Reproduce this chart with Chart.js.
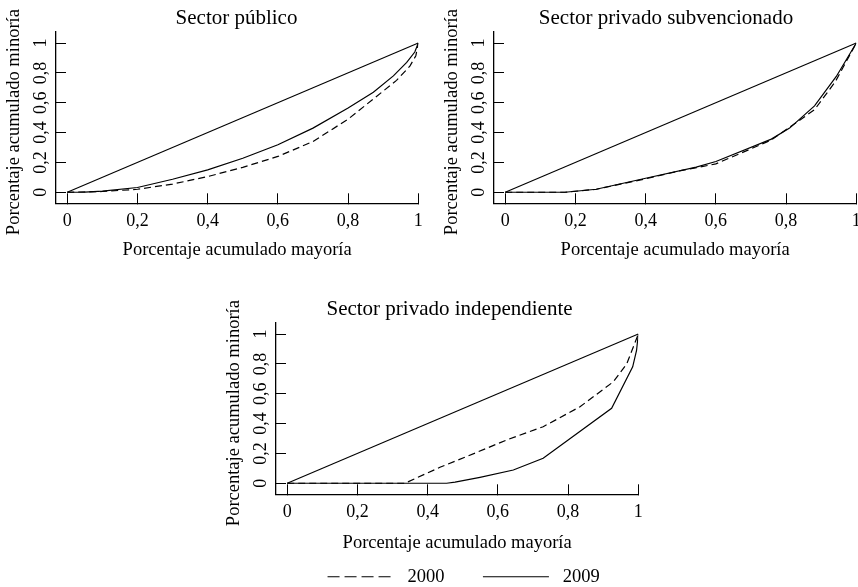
<!DOCTYPE html>
<html>
<head>
<meta charset="utf-8">
<script src="https://cdn.jsdelivr.net/npm/chart.js@4"></script>
<style>
  html, body { margin: 0; padding: 0; background: #fff; }
  body { width: 858px; height: 587px; overflow: hidden; position: relative; }
  canvas { position: absolute; }
</style>
</head>
<body>
<canvas id="c1" width="473" height="270" style="left:0px;top:0px;"></canvas>
<canvas id="c2" width="456" height="270" style="left:438px;top:0px;"></canvas>
<canvas id="c3" width="459" height="305" style="left:220px;top:291px;"></canvas>
<script>
// ---- data ----
const axisTicks = [0, 0.2, 0.4, 0.6, 0.8, 1];
const axisTickLabels = ['0', '0,2', '0,4', '0,6', '0,8', '1'];
const xTitleText = 'Porcentaje acumulado mayoría';
const yTitleText = 'Porcentaje acumulado minoría';
const seriesLabels = ['2000', '2009'];

const equalityX = [0, 1];
const equalityY = [0, 1];

// Sector público
const publico2000X = [0, 0.1, 0.2, 0.3, 0.4, 0.5, 0.6, 0.7, 0.8, 0.88, 0.938, 0.976, 0.993, 1];
const publico2000Y = [0, 0.005, 0.02, 0.055, 0.105, 0.167, 0.24, 0.34, 0.49, 0.64, 0.75, 0.845, 0.915, 1];
const publico2009X = [0, 0.05, 0.1, 0.2, 0.3, 0.4, 0.5, 0.6, 0.7, 0.8, 0.872, 0.929, 0.967, 0.99, 1];
const publico2009Y = [0, 0.001, 0.007, 0.032, 0.087, 0.15, 0.228, 0.318, 0.43, 0.564, 0.67, 0.78, 0.87, 0.94, 1];

// Sector privado subvencionado
const subv2000X = [0, 0.17, 0.26, 0.4, 0.5, 0.6, 0.758, 0.881, 0.94, 1];
const subv2000Y = [0, 0, 0.02, 0.09, 0.145, 0.19, 0.35, 0.553, 0.74, 1];
const subv2009X = [0, 0.17, 0.259, 0.4, 0.544, 0.6, 0.758, 0.81, 0.881, 0.943, 1];
const subv2009Y = [0, 0, 0.02, 0.094, 0.168, 0.206, 0.356, 0.43, 0.579, 0.776, 1];

// Sector privado independiente
const indep2000X = [0, 0.335, 0.435, 0.511, 0.625, 0.729, 0.834, 0.929, 0.967, 1];
const indep2000Y = [0, 0, 0.107, 0.179, 0.29, 0.379, 0.513, 0.68, 0.80, 1];
const indep2009X = [0, 0.454, 0.478, 0.549, 0.644, 0.729, 0.924, 0.984, 0.995, 1];
const indep2009Y = [0, 0, 0.007, 0.04, 0.089, 0.167, 0.502, 0.78, 0.89, 1];

// ---- helpers ----
const FONT = 'Liberation Serif, Times New Roman, serif';
function pts(xs, ys) { return xs.map((x, i) => ({x: x, y: ys[i]})); }

function makeChart(id, cfg) {
  const datasets = [
    {label: '', data: pts(equalityX, equalityY), borderColor: '#000', borderWidth: 1.1, pointRadius: 0, fill: false},
    {label: seriesLabels[0], data: pts(cfg.s2000X, cfg.s2000Y), borderColor: '#000', borderWidth: 1.2, borderDash: [7, 4], pointRadius: 0, fill: false},
    {label: seriesLabels[1], data: pts(cfg.s2009X, cfg.s2009Y), borderColor: '#000', borderWidth: 1.2, pointRadius: 0, fill: false}
  ];
  const tickCb = (v, i) => axisTickLabels[i];
  const setTicks = s => { s.ticks = axisTicks.map(v => ({value: v})); };
  return new Chart(document.getElementById(id), {
    type: 'line',
    data: {datasets},
    options: {
      responsive: false,
      animation: false,
      devicePixelRatio: 1,
      layout: {padding: 0},
      elements: {line: {tension: 0}, point: {radius: 0}},
      plugins: {
        tooltip: {enabled: false},
        title: {
          display: true, text: cfg.title, color: '#000',
          font: {family: FONT, size: 21, weight: 'normal', lineHeight: 1.2},
          padding: {top: 5.7, bottom: 0.8}
        },
        legend: cfg.legend ? {
          display: true, position: 'bottom', align: 'end', fullSize: false,
          labels: {
            usePointStyle: true, pointStyle: 'line', pointStyleWidth: 66, boxHeight: 18,
            padding: 38.5, color: '#000',
            font: {family: FONT, size: 18.5},
            filter: item => item.text.trim() !== '',
            generateLabels: chart => Chart.defaults.plugins.legend.labels.generateLabels(chart).map(it => {
              it.text = ' ' + it.text;
              it.pointStyle = 'line';
              it.lineWidth = 1.2;
              it.strokeStyle = '#000';
              it.lineDash = (it.datasetIndex === 1) ? [12, 5] : [];
              return it;
            })
          }
        } : {display: false}
      },
      scales: {
        x: {
          type: 'linear', position: 'bottom', min: -0.032, max: 1,
          afterBuildTicks: setTicks,
          afterFit: s => { s.height = cfg.xh; },
          grid: {display: true, drawOnChartArea: false, drawTicks: true, tickLength: -10, color: '#000', lineWidth: 1},
          border: {display: true, color: '#000', width: 1.3},
          ticks: {color: '#000', font: {family: FONT, size: 18}, padding: 17.6, autoSkip: false, maxRotation: 0, minRotation: 0, callback: tickCb},
          title: {display: true, text: xTitleText, color: '#000', font: {family: FONT, size: 18.5, lineHeight: 1.2}, padding: {top: 0, bottom: cfg.xtp}}
        },
        y: {
          type: 'linear', position: 'left', min: -0.074, max: 1.076,
          afterBuildTicks: setTicks,
          afterFit: s => { s.width = 56; },
          grid: {display: true, drawOnChartArea: false, drawTicks: true, tickLength: -10, color: '#000', lineWidth: 1},
          border: {display: true, color: '#000', width: 1.3},
          ticks: {color: '#000', font: {family: FONT, size: 18}, padding: 13.75, autoSkip: false, minRotation: 90, maxRotation: 90, crossAlign: 'center', callback: tickCb},
          title: {display: true, text: yTitleText + '  ', color: '#000', font: {family: FONT, size: 18.5, lineHeight: 1.2}, padding: {top: 3.1, bottom: 0}}
        },
        r: {
          type: 'linear', position: 'right', display: true,
          afterBuildTicks: s => { s.ticks = []; },
          afterFit: s => { s.width = cfg.rw; },
          grid: {display: false}, border: {display: false},
          ticks: {display: false}, title: {display: false}
        }
      }
    }
  });
}

makeChart('c1', {title: 'Sector público', s2000X: publico2000X, s2000Y: publico2000Y, s2009X: publico2009X, s2009Y: publico2009Y, xh: 66.7, xtp: 8.6, rw: 54.7, legend: false});
makeChart('c2', {title: 'Sector privado subvencionado', s2000X: subv2000X, s2000Y: subv2000Y, s2009X: subv2009X, s2009Y: subv2009Y, xh: 66.7, xtp: 8.6, rw: 37.7, legend: false});
makeChart('c3', {title: 'Sector privado independiente', s2000X: indep2000X, s2000Y: indep2000Y, s2009X: indep2009X, s2009Y: indep2009Y, xh: 34.7, xtp: -25.6, rw: 40.7, legend: true});
</script>
</body>
</html>
